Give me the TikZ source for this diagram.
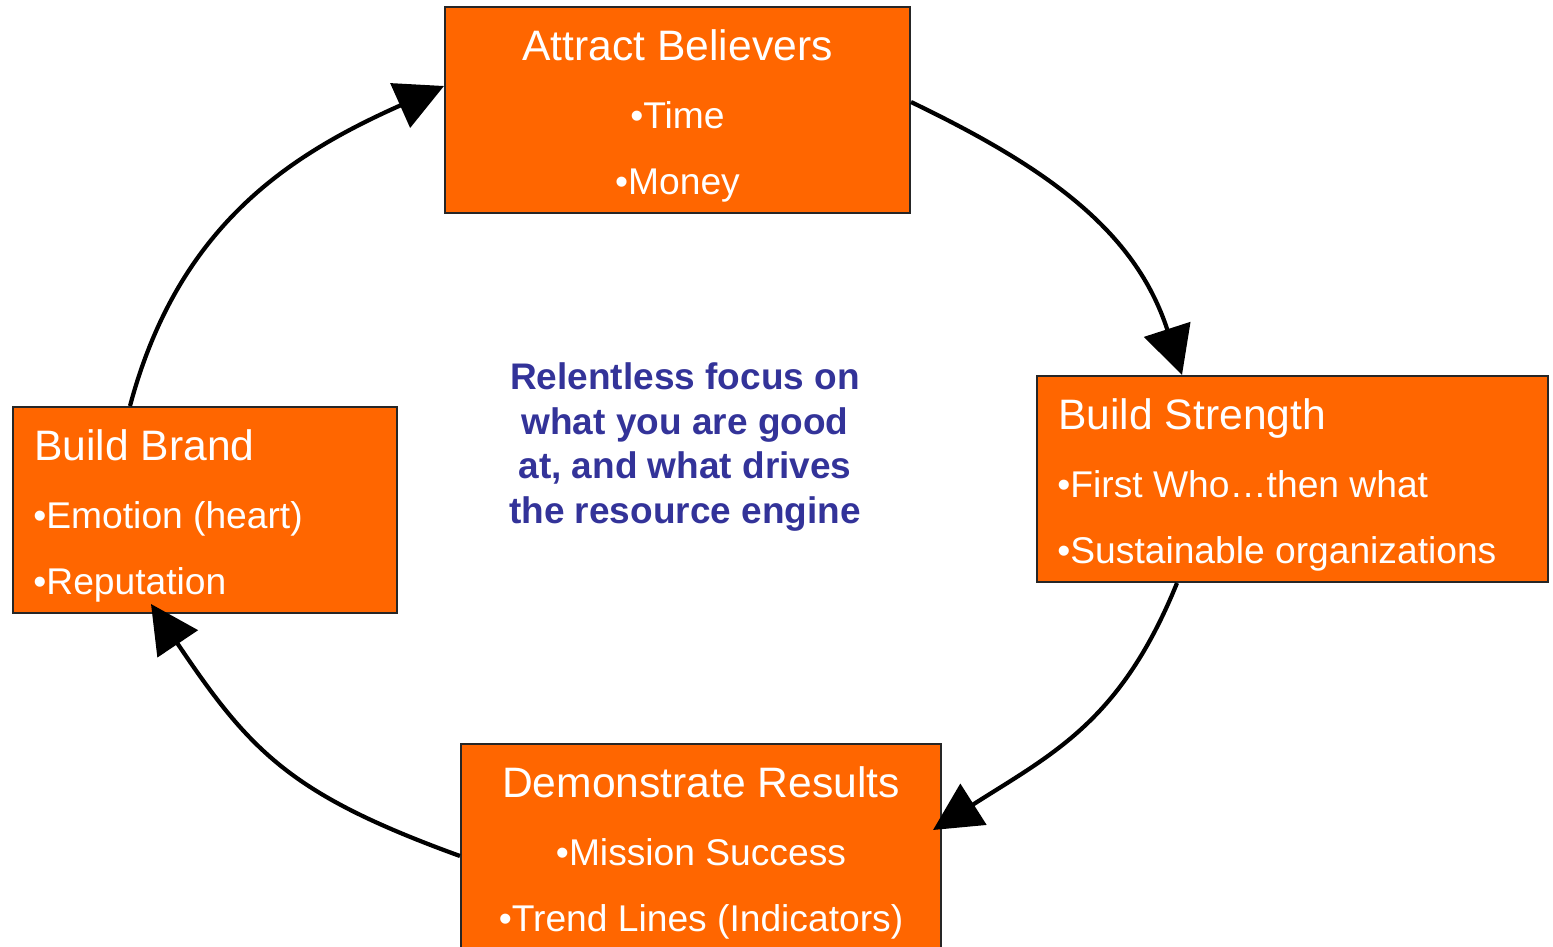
\documentclass[tikz,border=0pt]{standalone}
\usepackage{fontspec}
\setmainfont{Liberation Sans}
\usetikzlibrary{arrows.meta,calc}
\definecolor{boxorange}{HTML}{FF6600}
\definecolor{centerblue}{HTML}{333399}
\tikzset{
  stagebox/.style={draw=black!85, line width=1pt, fill=boxorange, rectangle, inner sep=0pt, minimum height=103pt},
  stagetitle/.style={text=white, font=\fontsize{21.3pt}{25pt}\selectfont, inner sep=0pt},
  stageitem/.style={text=white, font=\fontsize{18.6pt}{22pt}\selectfont, inner sep=0pt},
  cycleline/.style={line width=2.1pt, -{Triangle[length=24pt,width=24pt]}},
  centertext/.style={text=centerblue, font=\bfseries\fontsize{18.5pt}{22.3pt}\selectfont, align=center, inner sep=0pt}
}
\begin{document}
\begin{tikzpicture}[x=0.5pt,y=-0.5pt]
\useasboundingbox (0,0) rectangle (1553,947);

% boxes
\node[stagebox, minimum width=232.5pt] (attract) at (677.5,110) {};
\node[stagebox, minimum width=255.5pt] (strength) at (1292.5,479) {};
\node[stagebox, minimum width=192pt] (brand) at (205,510) {};
\node[stagebox, minimum width=240pt] (demo) at (701,847) {};

% Attract Believers
\node[stagetitle, anchor=base] (attractT) at ($(attract.north)+(0,54.5)$) {Attract Believers};
\node[stageitem, anchor=base] (attractA) at ($(attract.north)+(0,122)$) {•Time};
\node[stageitem, anchor=base] (attractB) at ($(attract.north)+(0,188.5)$) {•Money};

% Build Strength
\node[stagetitle, anchor=base west] (strengthT) at ($(strength.north west)+(22,54.5)$) {Build Strength};
\node[stageitem, anchor=base west] (strengthA) at ($(strength.north west)+(21,122)$) {•First Who…then what};
\node[stageitem, anchor=base west] (strengthB) at ($(strength.north west)+(21,188.5)$) {•Sustainable organizations};

% Build Brand
\node[stagetitle, anchor=base west] (brandT) at ($(brand.north west)+(22,54.5)$) {Build Brand};
\node[stageitem, anchor=base west] (brandA) at ($(brand.north west)+(21,122)$) {•Emotion (heart)};
\node[stageitem, anchor=base west] (brandB) at ($(brand.north west)+(21,188.5)$) {•Reputation};

% Demonstrate Results
\node[stagetitle, anchor=base] (demoT) at ($(demo.north)+(0,54.5)$) {Demonstrate Results};
\node[stageitem, anchor=base] (demoA) at ($(demo.north)+(0,122)$) {•Mission Success};
\node[stageitem, anchor=base] (demoB) at ($(demo.north)+(0,188.5)$) {•Trend Lines (Indicators)};

% centre text
\node[centertext] (focus) at (685,447) {Relentless focus on\\what you are good\\at, and what drives\\the resource engine};

% connectors
\draw[cycleline] ($(brand.north west)+(118,0)$) .. controls (178,226) and (289,155) .. ($(attract.north west)+(0,80)$);
\draw[cycleline] ($(attract.north east)+(0,96)$) .. controls (1046,167) and (1135,230) .. ($(strength.north west)+(146,0)$);
\draw[cycleline] ($(strength.south west)+(141,0)$) .. controls (1121,721) and (1054,753) .. ($(demo.north east)+(-9,87)$);
\draw[cycleline] ($(demo.north west)+(0,113)$) .. controls (292,795) and (251,753) .. ($(brand.south west)+(139,-10)$);
\end{tikzpicture}
\end{document}
